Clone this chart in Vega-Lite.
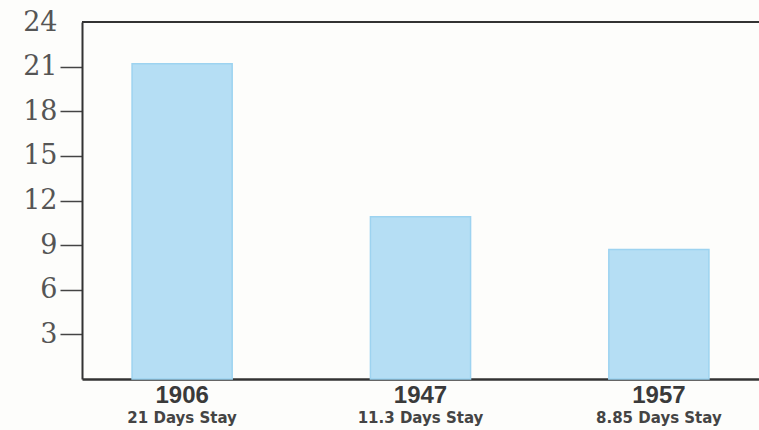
{
  "$schema": "https://vega.github.io/schema/vega-lite/v6.json",
  "autosize": "none",
  "width": 677,
  "height": 357,
  "padding": {"left": 82, "top": 22, "right": 0, "bottom": 51},
  "background": "#fdfdfb",
  "config": {"view": {"stroke": null}},
  "data": {
    "values": [
      {"year": "1906", "days": 21.2, "sub": "21 Days Stay"},
      {"year": "1947", "days": 10.9, "sub": "11.3 Days Stay"},
      {"year": "1957", "days": 8.7, "sub": "8.85 Days Stay"}
    ]
  },
  "layer": [
    {
      "mark": {"type": "bar", "color": "#b5def4", "stroke": "#9dd3f0", "strokeWidth": 1.5},
      "encoding": {
        "x": {
          "field": "year", "type": "nominal", "sort": null,
          "scale": {"paddingInner": 0.58, "paddingOuter": 0.21},
          "axis": {
            "title": null, "labelAngle": 0, "ticks": false,
            "domainColor": "#333", "domainWidth": 2.5,
            "labelFont": "Liberation Sans", "labelFontWeight": "bold",
            "labelFontSize": 24, "labelColor": "#3a3a3a", "labelPadding": 4
          }
        },
        "y": {
          "field": "days", "type": "quantitative",
          "scale": {"domain": [0, 24], "nice": false},
          "axis": {
            "title": null, "values": [0, 3, 6, 9, 12, 15, 18, 21, 24], "grid": false,
            "labelExpr": "datum.value === 0 ? '' : datum.label",
            "tickColor": {"condition": {"test": "datum.value === 0 || datum.value === 24", "value": "transparent"}, "value": "#444"},
            "tickSize": 22, "tickWidth": 1.5, "labelPadding": 3,
            "domainColor": "#333", "domainWidth": 2,
            "labelFont": "DejaVu Serif", "labelFontSize": 27, "labelColor": "#555"
          }
        }
      }
    },
    {
      "mark": {"type": "rule", "color": "#333", "strokeWidth": 2},
      "encoding": {"y": {"datum": 24}}
    },
    {
      "mark": {"type": "text", "font": "DejaVu Sans", "fontWeight": "bold", "fontSize": 15, "color": "#444", "dy": 39, "baseline": "middle"},
      "encoding": {
        "x": {"field": "year", "type": "nominal", "sort": null},
        "y": {"datum": 0},
        "text": {"field": "sub"}
      }
    }
  ]
}
